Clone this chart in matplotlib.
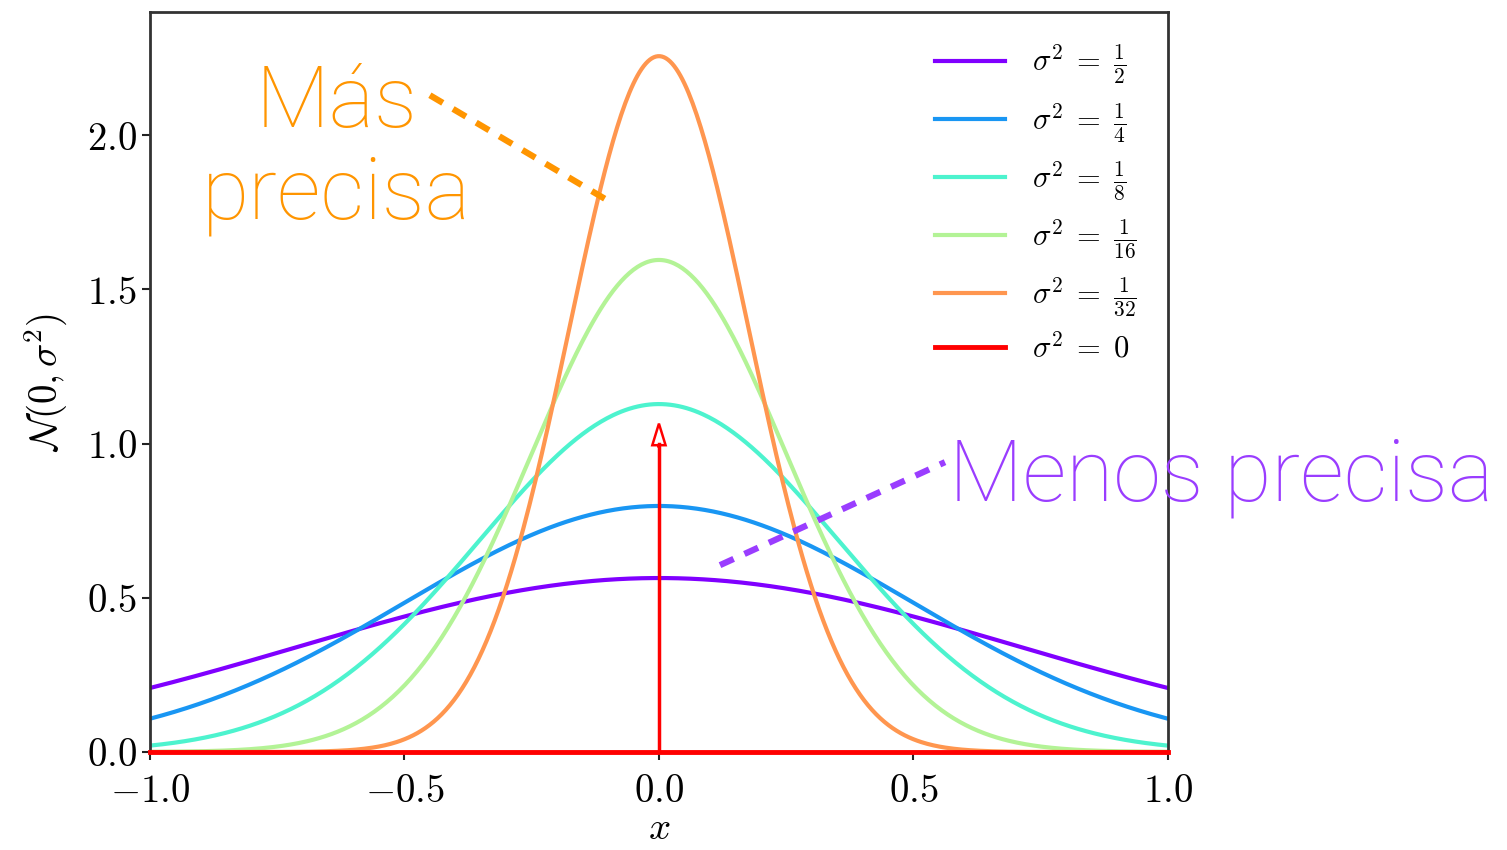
import numpy as np
import matplotlib
matplotlib.use('Agg')
import matplotlib.pyplot as plt

plt.rcParams['mathtext.fontset'] = 'cm'
plt.rcParams['font.family'] = 'DejaVu Serif'

# varianzas de las curvas (de la leyenda)
variances = [1/2, 1/4, 1/8, 1/16, 1/32]
labels = [r'$\sigma^2\;=\;\frac{1}{2}$', r'$\sigma^2\;=\;\frac{1}{4}$', r'$\sigma^2\;=\;\frac{1}{8}$',
          r'$\sigma^2\;=\;\frac{1}{16}$', r'$\sigma^2\;=\;\frac{1}{32}$']
delta_label = r'$\sigma^2\;=\;0$'
delta_height = 1.0
xticks = [-1.0, -0.5, 0.0, 0.5, 1.0]
yticks = [0.0, 0.5, 1.0, 1.5, 2.0]

x = np.linspace(-1, 1, 500)
colors = plt.cm.rainbow(np.linspace(0, 1, len(variances) + 1))

fig = plt.figure(figsize=(15.07, 8.5), dpi=100)
ax = fig.add_axes([0.0995, 0.1153, 0.6755, 0.8706])

for var, lab, c in zip(variances, labels, colors):
    pdf = np.exp(-x**2 / (2 * var)) / np.sqrt(2 * np.pi * var)
    ax.plot(x, pdf, color=c, lw=3, label=lab)

# sigma^2 = 0 -> delta
ax.plot([-1, 1], [0, 0], color=colors[-1], lw=3.5, label=delta_label, clip_on=False, zorder=5)
ax.plot([0, 0], [0, delta_height], color=colors[-1], lw=2.5, zorder=5)
ax.arrow(0, delta_height - 0.01, 0, 0.005, head_width=0.026, head_length=0.07,
         fc='none', ec=colors[-1], lw=1.8, zorder=6)

ax.set_xlim(-1, 1)
ax.set_ylim(0, 2.4)
ax.set_xticks(xticks)
ax.set_xticklabels(['$%.1f$' % t for t in xticks])
ax.set_yticks(yticks)
ax.set_yticklabels(['$%.1f$' % t for t in yticks])
ax.tick_params(labelsize=28, width=1.5, length=6, color='#222222')
ax.tick_params(axis='x', pad=9)
for s in ax.spines.values():
    s.set_linewidth(2)
    s.set_color('#333333')

ax.set_xlabel('$x$', fontsize=28, labelpad=0)
ax.set_ylabel(r'$\mathcal{N}(0, \sigma^2)$', fontsize=28, labelpad=12)

ax.legend(loc='upper right', frameon=False, fontsize=22, handlelength=2.3,
          handletextpad=0.9, labelspacing=0.48, borderaxespad=0.6)

# anotaciones
orange = '#ff9500'
purple = '#9a3dff'
ax.text(-0.633, 1.731, 'Más\nprecisa', color=orange, fontsize=62, family='Roboto',
        fontweight='light', ha='center', va='baseline', linespacing=1.15)
ax.plot([-0.45, -0.102], [2.13, 1.79], color=orange, lw=4.5, ls=(0, (2.4, 1.9)))
ax.text(0.57, 0.817, 'Menos precisa', color=purple, fontsize=62, family='Roboto',
        fontweight='light', ha='left', va='baseline', clip_on=False)
ax.plot([0.12, 0.562], [0.606, 0.94], color=purple, lw=4.5, ls=(0, (2.4, 1.9)),
        clip_on=False)

fig.savefig('out.png', dpi=100)
